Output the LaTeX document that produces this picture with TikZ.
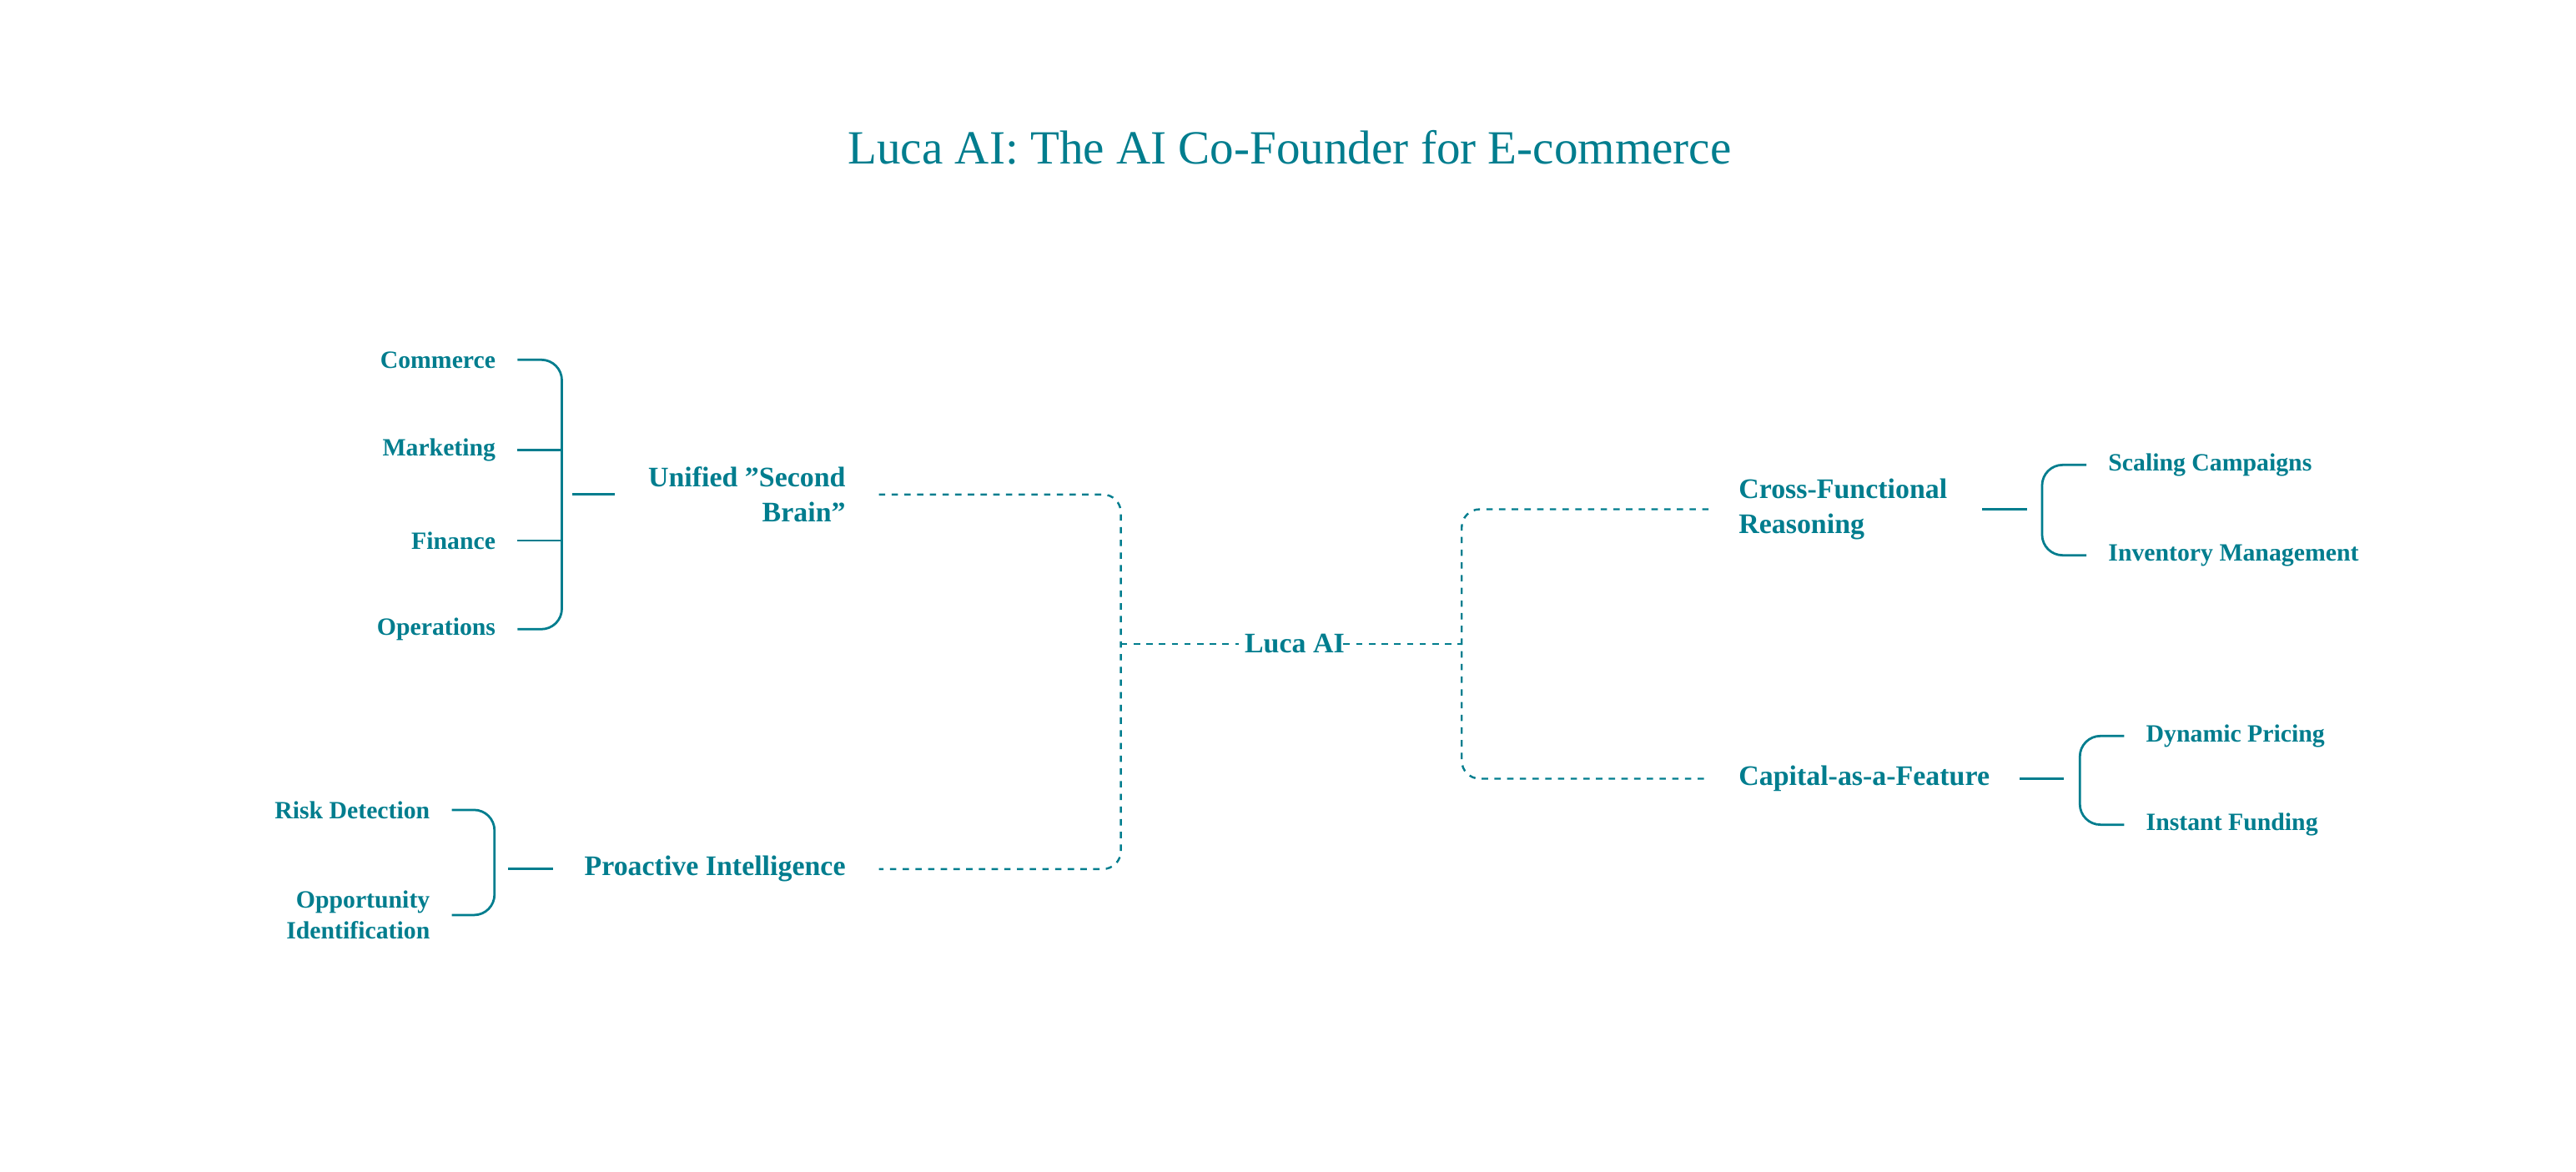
\documentclass[tikz,border=0pt]{standalone}
\usepackage{fontspec}
\setmainfont{Liberation Serif}
\usetikzlibrary{calc}
\definecolor{teal1}{RGB}{0,125,142}
\begin{document}
\begin{tikzpicture}[x=0.02cm,y=-0.02cm,
  lbl/.style={font=\bfseries\fontsize{8.6}{10.5}\selectfont,text=teal1,inner sep=0pt},
  mid/.style={font=\bfseries\fontsize{9.8}{12}\selectfont,text=teal1,inner sep=0pt},
  br/.style={draw=teal1,line width=0.8pt,rounded corners=0.25cm},
  dl/.style={draw=teal1,line width=0.7pt,dash pattern=on 2.2pt off 2.2pt,rounded corners=0.22cm}]
\useasboundingbox (0,0) rectangle (1568,713);
\node[font=\fontsize{16.5}{20}\selectfont,text=teal1] (title) at (785,90) {Luca AI: The AI Co-Founder for E-commerce};
\node[mid] (root) at (788,392) {Luca AI};
% left main
\node[mid,anchor=east,align=right] (ub) at (515,301) {Unified "Second\\Brain"};
\node[mid,anchor=east] (pi) at (515,529) {Proactive Intelligence};
% right main
\node[mid,anchor=west,align=left] (cf) at (1058,310) {Cross-Functional\\Reasoning};
\node[mid,anchor=west] (cap) at (1058,474) {Capital-as-a-Feature};
% leaves
\node[lbl,anchor=east] (com) at (302,219) {Commerce};
\node[lbl,anchor=east] (mkt) at (302,274) {Marketing};
\node[lbl,anchor=east] (fin) at (302,329) {Finance};
\node[lbl,anchor=east] (ops) at (302,383) {Operations};
\node[lbl,anchor=east] (risk) at (262,493) {Risk Detection};
\node[lbl,anchor=east,align=right] (opp) at (262,557) {Opportunity\\Identification};
\node[lbl,anchor=west] (scl) at (1283,283) {Scaling Campaigns};
\node[lbl,anchor=west] (inv) at (1283,338) {Inventory Management};
\node[lbl,anchor=west] (dyn) at (1306,448) {Dynamic Pricing};
\node[lbl,anchor=west] (ins) at (1306,502) {Instant Funding};
% root dashed connectors
\coordinate (rl) at ($(root.west)+(-75,0)$);
\coordinate (rr) at ($(root.east)+(71,0)$);
\draw[dl] (rl) -- ++(72,0);
\draw[dl] ($(rr)+(-72,0)$) -- (rr);
\draw[dl] ($(ub.east)+(20,0)$) -| (rl) |- ($(pi.east)+(20,0)$);
\draw[dl] ($(cf.west)+(-18,0)$) -| (rr) |- ($(cap.west)+(-18,0)$);
% left bracket
\draw[br] ($(com.east)+(13,0)$) -| ($(ops.east)+(40,0)$) -- ($(ops.east)+(13,0)$);
\draw[br] ($(mkt.east)+(13,0)$) -- ++(27,0);
\draw[br] ($(fin.east)+(13,0)$) -- ++(27,0);
\draw[br] ($(ub.west)+(-20,0)$) -- ++(-26,0);
% proactive bracket
\draw[br] ($(risk.east)+(13,0)$) -| ($(opp.east)+(39,0)$) -- ($(opp.east)+(13,0)$);
\draw[br] ($(pi.west)+(-19,0)$) -- ++(-27,0);
% cross-functional bracket
\draw[br] ($(scl.west)+(-13,0)$) -| ($(inv.west)+(-40,0)$) -- ($(inv.west)+(-13,0)$);
\draw[br] ($(cf.east)+(21,0)$) -- ++(27,0);
% capital bracket
\draw[br] ($(dyn.west)+(-13,0)$) -| ($(ins.west)+(-40,0)$) -- ($(ins.west)+(-13,0)$);
\draw[br] ($(cap.east)+(18,0)$) -- ++(27,0);
\end{tikzpicture}
\end{document}
